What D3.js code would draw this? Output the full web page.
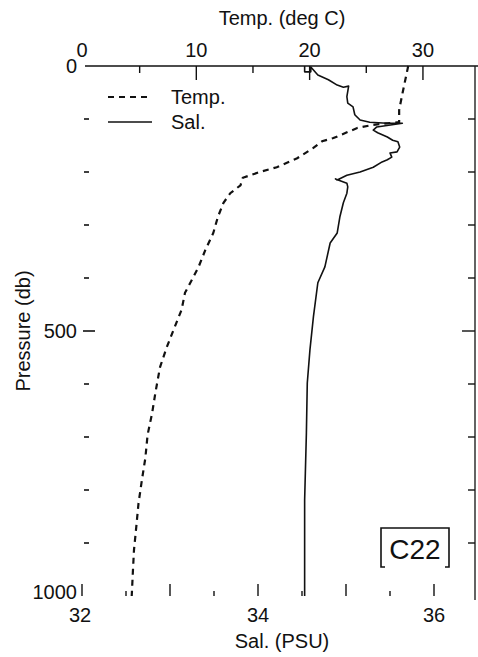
<!DOCTYPE html>
<html>
<head>
<meta charset="utf-8">
<script src="https://cdn.jsdelivr.net/npm/d3@7"></script>
<style>
  html, body { margin: 0; padding: 0; background: #fff; }
  svg { display: block; }
  text { font-family: "Liberation Sans", Arial, Helvetica, sans-serif; fill: #111; }
</style>
</head>
<body>
<svg id="chart" width="478" height="657"></svg>
<script>
// Station C22 profile: temperature and salinity against pressure
const tempPressure = [0, 51, 83, 106, 111, 117, 136, 142, 155, 174, 191, 200, 211, 225, 240, 258, 285,
  315, 347, 379, 404, 428, 460, 492, 530, 568, 615, 655, 696, 740, 781, 825, 870, 913, 955, 1000];
const temperature = [28.7, 28.2, 27.9, 27.9, 25.6, 24.2, 22.1, 21.1, 20.3, 18.9, 17.1, 15.6, 14.1, 13.9, 13.0, 12.4, 11.9,
  11.5, 10.8, 10.2, 9.6, 9.0, 8.7, 8.1, 7.4, 6.8, 6.4, 6.1, 5.7, 5.5, 5.2, 4.9, 4.7, 4.5, 4.4, 4.3];

const salPressure = [0, 11, 11, 2, 17, 26, 36, 40, 38, 58, 70, 77, 92, 102, 106, 108, 108, 115, 121, 126, 134, 140, 143,
  153, 162, 164, 172, 177, 181, 191, 200, 206, 215, 213, 221, 228, 240, 258, 285,
  315, 334, 379, 409, 473, 536, 598, 692, 819, 1000];
const salinity = [34.53, 34.53, 34.60, 34.60, 34.68, 34.80, 34.90, 34.97, 35.03, 35.01, 35.02, 35.08, 35.10, 35.16, 35.27, 35.47, 35.64, 35.35, 35.31, 35.36, 35.47, 35.53, 35.59,
  35.61, 35.58, 35.50, 35.52, 35.47, 35.41, 35.31, 35.16, 35.01, 34.90, 34.88, 35.01, 35.02, 35.01, 34.97, 34.93,
  34.90, 34.82, 34.76, 34.68, 34.63, 34.59, 34.56, 34.55, 34.53, 34.53];

const tempTickLabels = [0, 10, 20, 30];
const tempMinorTicks = [5, 15, 25];
const salTickLabels = [32, 34, 36];
const salMidTicks = [33, 35];
const salMinorTicks = [32.5, 33.5, 34.5, 35.5];
const pressureLabels = [0, 500, 1000];
const pressureTicks = [100, 200, 300, 400, 500, 600, 700, 800, 900];
const legendItems = ["Temp.", "Sal."];
const stationName = "C22";

const svg = d3.select("#chart");
const plotTop = 66, plotBottom = 596, plotRight = 475;

const y = d3.scaleLinear().domain([0, 1000]).range([plotTop, plotBottom]);
const xT = d3.scaleLinear().domain([0, 35]).range([83, 479.6]);
const xS = d3.scaleLinear().domain([32, 36.5]).range([82, 478]);

// top axis line and right frame
svg.append("line").attr("x1", 85).attr("x2", 478).attr("y1", plotTop).attr("y2", plotTop)
  .attr("stroke", "#111").attr("stroke-width", 1.6);
svg.append("line").attr("x1", plotRight).attr("x2", plotRight).attr("y1", plotTop).attr("y2", 600)
  .attr("stroke", "#222").attr("stroke-width", 1.4);

// temperature axis (top)
const tAxis = svg.append("g").attr("transform", `translate(0,${plotTop})`);
tAxis.selectAll("line.maj").data(tempTickLabels.filter(d => d > 0)).join("line")
  .attr("class", "maj")
  .attr("x1", d => xT(d)).attr("x2", d => xT(d)).attr("y1", 0).attr("y2", 14)
  .attr("stroke", "#111").attr("stroke-width", 1.4);
tAxis.selectAll("line.min").data(tempMinorTicks).join("line")
  .attr("class", "min")
  .attr("x1", d => xT(d)).attr("x2", d => xT(d)).attr("y1", 0).attr("y2", 7)
  .attr("stroke", "#111").attr("stroke-width", 1.4);
tAxis.selectAll("text").data(tempTickLabels).join("text")
  .attr("x", d => xT(d) - (d === 0 ? 1 : 0)).attr("y", -9)
  .attr("text-anchor", "middle").attr("font-size", 20).text(d => d);
svg.append("text").attr("x", 282).attr("y", 25).attr("text-anchor", "middle")
  .attr("font-size", 20).text("Temp. (deg C)");

// salinity axis (bottom)
const sAxis = svg.append("g").attr("transform", `translate(0,${plotBottom})`);
sAxis.selectAll("line.maj").data(salTickLabels.concat(salMidTicks)).join("line")
  .attr("class", "maj")
  .attr("x1", d => xS(d)).attr("x2", d => xS(d)).attr("y1", 0).attr("y2", -12)
  .attr("stroke", "#111").attr("stroke-width", 1.4);
sAxis.selectAll("line.min").data(salMinorTicks).join("line")
  .attr("class", "min")
  .attr("x1", d => xS(d)).attr("x2", d => xS(d)).attr("y1", 0).attr("y2", -5)
  .attr("stroke", "#111").attr("stroke-width", 1.4);
sAxis.selectAll("text").data(salTickLabels).join("text")
  .attr("x", d => xS(d) - (d === 32 ? 2 : 0)).attr("y", 26)
  .attr("text-anchor", "middle").attr("font-size", 20).text(d => d);
svg.append("text").attr("x", 282).attr("y", 648).attr("text-anchor", "middle")
  .attr("font-size", 20).text("Sal. (PSU)");

// pressure axis (left) and mirrored ticks on the right frame
const pAxis = svg.append("g");
pAxis.selectAll("line").data(pressureTicks).join("line")
  .attr("x1", d => d === 500 ? 83 : 84).attr("x2", d => d === 500 ? 95 : 89)
  .attr("y1", d => y(d)).attr("y2", d => y(d))
  .attr("stroke", "#111").attr("stroke-width", 1.6);
pAxis.selectAll("text").data(pressureLabels).join("text")
  .attr("x", 77).attr("y", d => y(d) + (d === 1000 ? 3 : 7))
  .attr("text-anchor", "end").attr("font-size", 20).text(d => d);
svg.append("text").attr("transform", `translate(30,${y(500)}) rotate(-90)`)
  .attr("text-anchor", "middle").attr("font-size", 20).text("Pressure (db)");

svg.append("g").selectAll("line").data(pressureTicks).join("line")
  .attr("x1", d => d === 500 ? plotRight - 13 : plotRight - 7).attr("x2", plotRight)
  .attr("y1", d => y(d)).attr("y2", d => y(d))
  .attr("stroke", "#111").attr("stroke-width", 1.4);

// profiles
const tempLine = d3.line().x(d => xT(d[1])).y(d => y(d[0])).curve(d3.curveLinear);
const salLine = d3.line().x(d => xS(d[1])).y(d => y(d[0])).curve(d3.curveLinear);

svg.append("path").datum(d3.zip(tempPressure, temperature))
  .attr("d", tempLine).attr("fill", "none").attr("stroke", "#111")
  .attr("stroke-width", 2.2).attr("stroke-dasharray", "6,5");
svg.append("path").datum(d3.zip(salPressure, salinity))
  .attr("d", salLine).attr("fill", "none").attr("stroke", "#111")
  .attr("stroke-width", 1.6).attr("stroke-linejoin", "round");

// legend
const legend = svg.append("g");
legend.selectAll("line").data(legendItems).join("line")
  .attr("x1", 108).attr("x2", 152).attr("y1", (d, i) => 97 + i * 25).attr("y2", (d, i) => 97 + i * 25)
  .attr("stroke", "#111").attr("stroke-width", (d, i) => i === 0 ? 2.2 : 1.6)
  .attr("stroke-dasharray", (d, i) => i === 0 ? "6,5" : null);
legend.selectAll("text").data(legendItems).join("text")
  .attr("x", 171).attr("y", (d, i) => 104 + i * 25).attr("font-size", 20).text(d => d);

// station tag
const tag = svg.append("g");
const bx0 = 381, bx1 = 449, by0 = 528, by1 = 567;
tag.append("path")
  .attr("d", `M${bx0 + 4},${by1} H${bx0} V${by0} H${bx1} V${by1} H${bx1 - 4}`)
  .attr("fill", "none").attr("stroke", "#111").attr("stroke-width", 1.6);
tag.append("text").attr("x", (bx0 + bx1) / 2).attr("y", by1 - 8)
  .attr("text-anchor", "middle").attr("font-size", 28).text(stationName);
</script>
</body>
</html>
